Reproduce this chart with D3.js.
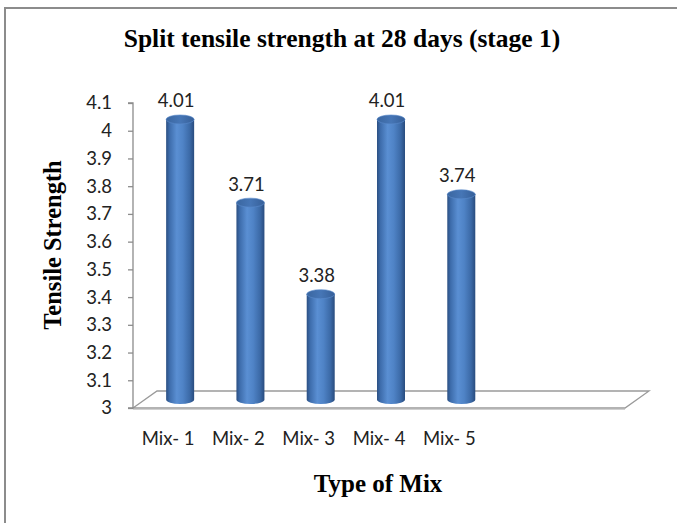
<!DOCTYPE html>
<html>
<head>
<meta charset="utf-8">
<script src="https://cdn.jsdelivr.net/npm/d3@7"></script>
<style>
  html, body { margin: 0; padding: 0; background: #fff; }
  svg { display: block; }
</style>
</head>
<body>
<svg id="chart" width="677" height="523"></svg>
<script>
// Data
const categories = ["Mix- 1", "Mix- 2", "Mix- 3", "Mix- 4", "Mix- 5"];
const values = [4.01, 3.71, 3.38, 4.01, 3.74];
const yTicks = [3, 3.1, 3.2, 3.3, 3.4, 3.5, 3.6, 3.7, 3.8, 3.9, 4, 4.1];
const title = "Split tensile strength at 28 days (stage 1)";
const xTitle = "Type of Mix";
const yTitle = "Tensile Strength";

// Layout
const W = 677, H = 523;
const plot = { left: 133, right: 625, top: 103, bottom: 408 };
const depth = { dx: 24, dy: -17 };
const slots = 7; // floor is divided into 7 category slots; the last two stay empty
const barR = 14, barRy = 4.5;
const sans = "Lato, 'Open Sans', sans-serif";
const serif = "'Liberation Serif', 'Times New Roman', serif";
const labelSize = 18.5;

const svg = d3.select("#chart");

// Outer frame
svg.append("rect")
  .attr("x", 5).attr("y", 8).attr("width", W + 10).attr("height", H + 10)
  .attr("fill", "#fff").attr("stroke", "#8c8c8c").attr("stroke-width", 2);

const slotKeys = categories.concat(d3.range(slots - categories.length).map(i => "__empty" + i));
const x = d3.scaleBand().domain(slotKeys).range([plot.left, plot.right]).padding(0);
const y = d3.scaleLinear().domain([3, 4.1]).range([plot.bottom, plot.top]);

// Bar gradient
const defs = svg.append("defs");
const grad = defs.append("linearGradient").attr("id", "cyl").attr("x1", "0").attr("x2", "1").attr("y1", "0").attr("y2", "0");
[[0, "#2b4f82"], [0.12, "#3d6cab"], [0.38, "#5a8fd3"], [0.6, "#4f83c6"], [0.85, "#3b69a6"], [1, "#294c7e"]]
  .forEach(([o, c]) => grad.append("stop").attr("offset", o).attr("stop-color", c));
const topGrad = defs.append("linearGradient").attr("id", "cylTop").attr("x1", "0").attr("x2", "1");
[[0, "#3a66a0"], [0.5, "#4676b6"], [1, "#365f98"]]
  .forEach(([o, c]) => topGrad.append("stop").attr("offset", o).attr("stop-color", c));

// Floor
const y0 = y(3);
const floor = svg.append("g");
floor.append("path")
  .attr("d", `M${plot.left},${y0} L${plot.left + depth.dx},${y0 + depth.dy} L${plot.right + depth.dx},${y0 + depth.dy} L${plot.right},${y0} Z`)
  .attr("fill", "#fff").attr("stroke", "#9a9a9a").attr("stroke-width", 1.3);
floor.append("line")
  .attr("x1", plot.left).attr("x2", plot.right).attr("y1", y0 + 1.5).attr("y2", y0 + 1.5)
  .attr("stroke", "#d0d0d0").attr("stroke-width", 1);

// Y axis
const yAxis = d3.axisLeft(y).tickValues(yTicks).tickSize(5).tickPadding(16)
  .tickFormat(d => d3.format("")(+d.toFixed(1)));
const gy = svg.append("g").attr("transform", `translate(${plot.left},0)`).call(yAxis);
gy.select(".domain").attr("stroke", "#8c8c8c").attr("stroke-width", 1.3).attr("d", `M-5,${plot.top}H0V${plot.bottom}H-5`);
gy.selectAll(".tick line").attr("stroke", "#8c8c8c").attr("stroke-width", 1.3);
gy.selectAll(".tick text").attr("font-family", sans).attr("font-size", labelSize).attr("fill", "#222");

// X axis labels
const xAxis = d3.axisBottom(x).tickValues(categories).tickSize(0).tickPadding(24);
const gx = svg.append("g").attr("transform", `translate(0,${y0})`).call(xAxis);
gx.select(".domain").remove();
gx.selectAll(".tick text").attr("font-family", sans).attr("font-size", labelSize).attr("fill", "#222");

// Cylinders
const bars = svg.append("g").selectAll("g").data(categories.map((c, i) => ({ c, v: values[i] }))).join("g");
bars.each(function (d) {
  const g = d3.select(this);
  const cx = x(d.c) + x.bandwidth() / 2 + depth.dx / 2;
  const yt = y(d.v) + depth.dy / 2;
  const yb = y(3) + depth.dy / 2;
  g.append("path")
    .attr("d", `M${cx - barR},${yt} L${cx - barR},${yb} A${barR},${barRy} 0 0 0 ${cx + barR},${yb} L${cx + barR},${yt} Z`)
    .attr("fill", "url(#cyl)");
  g.append("ellipse").attr("cx", cx).attr("cy", yt).attr("rx", barR).attr("ry", barRy)
    .attr("fill", "url(#cylTop)").attr("stroke", "#5b8ccc").attr("stroke-width", 0.6);
  g.append("text")
    .attr("x", cx - 4).attr("y", yt - 12)
    .attr("text-anchor", "middle")
    .attr("font-family", sans).attr("font-size", labelSize).attr("fill", "#222")
    .text(d3.format(".2f")(d.v));
});

// Titles
svg.append("text").attr("x", 342).attr("y", 47).attr("text-anchor", "middle")
  .attr("font-family", serif).attr("font-weight", "bold")
  .attr("font-size", 25.5).attr("fill", "#000").text(title);
svg.append("text").attr("x", 378).attr("y", 492).attr("text-anchor", "middle")
  .attr("font-family", serif).attr("font-weight", "bold")
  .attr("font-size", 25).attr("fill", "#000").text(xTitle);
svg.append("text").attr("transform", "translate(61,245) rotate(-90)").attr("text-anchor", "middle")
  .attr("font-family", serif).attr("font-weight", "bold")
  .attr("font-size", 24.5).attr("fill", "#000").text(yTitle);
</script>
</body>
</html>
